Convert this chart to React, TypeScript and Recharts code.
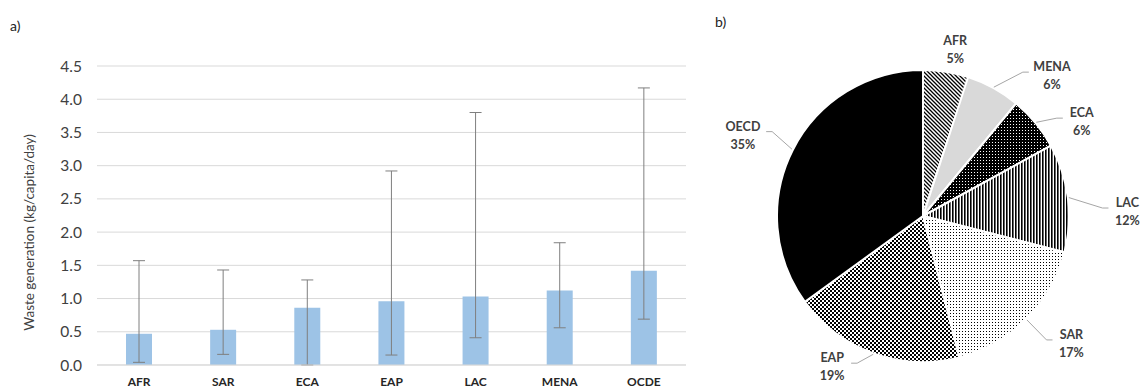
import React from 'react';
import { BarChart, Bar, XAxis, YAxis, CartesianGrid, ErrorBar, PieChart, Pie, Cell } from 'recharts';

// ---- Panel a) data ----
const regions = ['AFR', 'SAR', 'ECA', 'EAP', 'LAC', 'MENA', 'OCDE'];
const meanValues = [0.47, 0.53, 0.86, 0.96, 1.03, 1.12, 1.42];
const minValues = [0.04, 0.16, 0.0, 0.15, 0.41, 0.56, 0.69];
const maxValues = [1.57, 1.43, 1.28, 2.92, 3.80, 1.84, 4.17];
const yTicks = [0, 0.5, 1.0, 1.5, 2.0, 2.5, 3.0, 3.5, 4.0, 4.5];

// ---- Panel b) data ----
const pieRegions = ['AFR', 'MENA', 'ECA', 'LAC', 'SAR', 'EAP', 'OECD'];
const pieShares = [5, 6, 6, 12, 17, 19, 35];

const FONT = 'Lato, "Noto Sans", sans-serif';
const pieFills = ['url(#pAfr)', '#d9d9d9', 'url(#pEca)', 'url(#pLac)', 'url(#pSar)', 'url(#pEap)', '#000000'];

const barData = regions.map((r, i) => ({
  region: r,
  value: meanValues[i],
  err: [meanValues[i] - minValues[i], maxValues[i] - meanValues[i]],
}));

const pieData = pieRegions.map((n, i) => ({ name: n, value: pieShares[i] }));

const RAD = Math.PI / 180;

const renderPieLabel = (props: any) => {
  const { cx, cy, midAngle, outerRadius, name, percent } = props;
  const c = Math.cos(-midAngle * RAD);
  const s = Math.sin(-midAngle * RAD);
  // label layout heuristic (approximates the spreadsheet's "best fit" placement)
  const rx = outerRadius + (c > 0 ? 60 : 54);
  const pushLeft = c < 0 ? 37 * Math.abs(s) * (1 - Math.abs(c)) : 0;
  const pushRight = c > 0 ? 30 * Math.max(0, 1 - Math.abs(c - 0.48) / 0.25) : 0;
  const lx = cx + rx * c - pushLeft + pushRight;
  const ly = cy - 7 + (outerRadius + 20) * s + 22 * Math.max(c, 0);
  const pct = Math.round(percent * 100);
  const halfW = String(name).length * 4.3 + 2;
  const sx = cx + (outerRadius + 1) * c;
  const sy = cy + (outerRadius + 1) * s;
  const ex = lx - Math.sign(c) * (halfW + 4);
  const ey = ly - 2;
  const showLine = Math.abs(c) > 0.3;
  return (
    <g>
      {showLine && (
        <polyline
          points={`${sx},${sy} ${ex - Math.sign(c) * 6},${ey} ${ex},${ey}`}
          fill="none"
          stroke="#a6a6a6"
          strokeWidth={1}
        />
      )}
      <text x={lx} y={ly} textAnchor="middle" fill="#404040" fontWeight={700} fontSize={12.5} fontFamily={FONT}>
        <tspan x={lx} dy={-3}>{name}</tspan>
        <tspan x={lx} dy={18}>{pct}%</tspan>
      </text>
    </g>
  );
};

const YLabel = (props: any) => {
  const vb = props.viewBox || {};
  const x = vb.x + 31;
  const y = vb.y + vb.height / 2 + 17;
  return (
    <text x={x} y={y} transform={`rotate(-90, ${x}, ${y})`} textAnchor="middle" dominantBaseline="middle"
      fill="#404040" fontSize={13.5} fontFamily={FONT}>
      Waste generation (kg/capita/day)
    </text>
  );
};

export default function App() {
  return (
    <div style={{ position: 'fixed', left: 0, top: 0, width: 1142, height: 389, background: '#fff', overflow: 'hidden' }}>
      <div style={{ position: 'absolute', left: 10, top: 17, fontSize: 14, fontFamily: FONT, color: '#222' }}>a)</div>
      <div style={{ position: 'absolute', left: 715, top: 13, fontSize: 14, fontFamily: FONT, color: '#222' }}>b)</div>
      <div style={{ position: 'absolute', left: 0, top: 0 }}>
        <BarChart width={700} height={389} data={barData} margin={{ top: 66, right: 14, bottom: 0, left: 0 }} barSize={26}>
          <CartesianGrid vertical={false} stroke="#d9d9d9" />
          <XAxis
            dataKey="region"
            height={24}
            tickLine={false}
            axisLine={{ stroke: '#d9d9d9' }}
            tickMargin={6}
            tick={{ fontSize: 12, fontWeight: 700, fill: '#262626', fontFamily: FONT }}
          />
          <YAxis
            width={97}
            domain={[0, 4.5]}
            ticks={yTicks}
            tickFormatter={(v: number) => v.toFixed(1)}
            axisLine={false}
            tickLine={false}
            tickMargin={9}
            tick={{ fontSize: 15.5, fill: '#404040', fontFamily: FONT }}
            label={<YLabel />}
          />
          <Bar dataKey="value" fill="#9dc3e6" isAnimationActive={false}>
            <ErrorBar dataKey="err" width={6} strokeWidth={1} stroke="#7f7f7f" direction="y" />
          </Bar>
        </BarChart>
      </div>
      <div style={{ position: 'absolute', left: 700, top: 0 }}>
        <PieChart width={442} height={389} margin={{ top: 0, right: 0, bottom: 0, left: 0 }}>
          <defs>
            <pattern id="pAfr" width="4" height="4" patternUnits="userSpaceOnUse">
              <rect width="4" height="4" fill="#fff" />
              <path d="M-1,-1 L5,5 M-1,3 L1,5 M3,-1 L5,1" stroke="#000" strokeWidth="1.3" />
            </pattern>
            <pattern id="pEca" width="3" height="3" patternUnits="userSpaceOnUse">
              <rect width="3" height="3" fill="#000" />
              <rect x="1" y="1" width="1" height="1" fill="#fff" />
            </pattern>
            <pattern id="pLac" width="3" height="3" patternUnits="userSpaceOnUse">
              <rect width="3" height="3" fill="#fff" />
              <rect x="0" y="0" width="1.6" height="3" fill="#000" />
            </pattern>
            <pattern id="pSar" width="3" height="3" patternUnits="userSpaceOnUse">
              <rect width="3" height="3" fill="#fff" />
              <rect x="1" y="1" width="1" height="1" fill="#000" />
            </pattern>
            <pattern id="pEap" width="4" height="4" patternUnits="userSpaceOnUse">
              <rect width="4" height="4" fill="#fff" />
              <rect x="0" y="0" width="2" height="2" fill="#000" />
              <rect x="2" y="2" width="2" height="2" fill="#000" />
            </pattern>
          </defs>
          <Pie
            data={pieData}
            dataKey="value"
            nameKey="name"
            cx={223}
            cy={216}
            outerRadius={146}
            startAngle={90}
            endAngle={-270}
            stroke="#fff"
            strokeWidth={2}
            label={renderPieLabel}
            labelLine={false}
            isAnimationActive={false}
          >
            {pieData.map((d, i) => (
              <Cell key={d.name} fill={pieFills[i]} />
            ))}
          </Pie>
        </PieChart>
      </div>
    </div>
  );
}
